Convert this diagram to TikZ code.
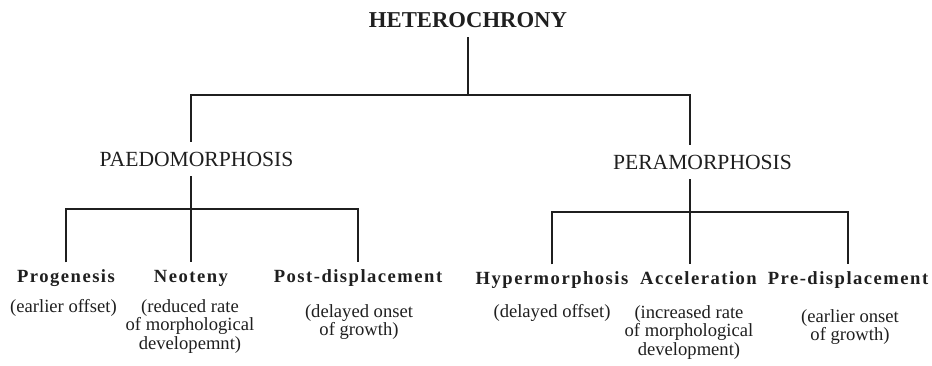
\documentclass[tikz,border=0pt]{standalone}
\usepackage{fontspec}
\setmainfont{Liberation Serif}
\usetikzlibrary{positioning}
\definecolor{ink}{gray}{0.12}

\tikzset{
  stem/.style={ink, line width=2.7pt},
  root/.style={font=\fontsize{22.7}{24}\selectfont\bfseries, text=ink, inner xsep=0pt, inner ysep=10pt, text height=15pt, text depth=0pt, anchor=base},
  group/.style={font=\fontsize{21.6}{23}\selectfont, text=ink, inner xsep=0pt, inner ysep=10pt, text height=14.3pt, text depth=0pt, anchor=base},
  kind/.style={font=\fontsize{18.6}{20}\selectfont\bfseries\addfontfeature{LetterSpace=8}, text=ink, inner xsep=0pt, inner ysep=6pt, text height=13.5pt, text depth=4pt, anchor=base},
  note/.style={font=\fontsize{18.6}{18.5}\selectfont, text=ink, align=center, inner sep=0pt, anchor=base}
}

\begin{document}
\begin{tikzpicture}[x=1pt, y=-1pt]
  \useasboundingbox (0,0) rectangle (932,365);
  % top level
  \node[root] (het) at (468,27) {HETEROCHRONY};
  \node[group] (paedo) at (196.5,166) {PAEDOMORPHOSIS};
  \node[group] (pera) at (702.5,169) {PERAMORPHOSIS};
  \coordinate (hbar) at (468,95);
  \draw[stem] (het) -- (het |- hbar);
  \draw[stem] ([xshift=-5.5pt]paedo.north) |- (hbar) -| ([xshift=-12.5pt]pera.north);

  % paedomorphosis (notes sit on their last baseline)
  \node[kind] (prog) at (66,282) {Progenesis};
  \node[kind] (neo) at (191,282) {Neoteny};
  \node[kind] (post) at (358,282) {Post-displacement};
  \coordinate (pbar) at (191,209);
  \draw[stem] ([xshift=-5.5pt]paedo.south) -- (neo);
  \draw[stem] (prog) |- (pbar) -| (post);
  \node[note] (prog-n) at (63.5,312) {(earlier offset)};
  \node[note] (neo-n) at (190,349) {(reduced rate\\of morphological\\developemnt)};
  \node[note] (post-n) at (359,335.5) {(delayed onset\\of growth)};

  % peramorphosis
  \node[kind] (hyper) at (552,284) {Hypermorphosis};
  \node[kind] (accel) at (698.5,284) {Acceleration};
  \node[kind] (pre) at (848,284) {Pre-displacement};
  \coordinate (rbar) at (690,212);
  \draw[stem] ([xshift=-12.5pt]pera.south) -- ([xshift=-12.5pt]pera.south |- accel.north);
  \draw[stem] (hyper) |- (rbar) -| (pre);
  \node[note] (hyper-n) at (552,317) {(delayed offset)};
  \node[note] (accel-n) at (689,355) {(increased rate\\of morphological\\development)};
  \node[note] (pre-n) at (850,340.5) {(earlier onset\\of growth)};
\end{tikzpicture}
\end{document}
